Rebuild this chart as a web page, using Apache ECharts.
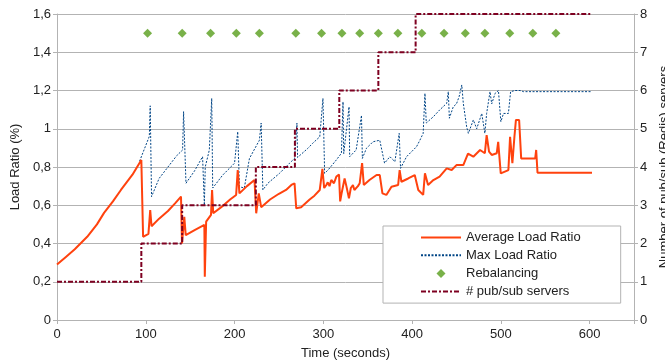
<!DOCTYPE html>
<html>
<head>
<meta charset="utf-8">
<script src="https://cdn.jsdelivr.net/npm/echarts@6/dist/echarts.min.js"></script>
<style>
  html, body { margin: 0; padding: 0; background: #fff; }
  #main { width: 665px; height: 364px; }
</style>
</head>
<body>
<div id="main"></div>
<script>
// average load ratio (time in s, ratio)
const avgTime = [0, 10, 20, 34, 45, 53, 63, 72, 85, 95, 97, 103, 105, 106.5, 115, 125, 133, 139.7, 140.8, 143.4, 145, 155, 166, 166.5, 168, 173.5, 174.7, 176, 185, 195, 201.8, 203.6, 205.5, 214, 222.5, 224.4, 227.3, 230, 240, 250, 258, 264, 267.6, 269.5, 275, 284.6, 290, 296, 299, 301, 303.4, 305, 307, 309, 312, 314.7, 317.7, 319, 320.5, 322, 324, 326, 328.9, 331, 333.4, 335, 337, 339, 341, 343.7, 345.6, 352, 360, 363.6, 366.6, 371, 376.8, 384.3, 386, 388, 395.6, 403, 407, 412.5, 414.5, 418, 424, 431, 439, 444.6, 450, 457.7, 463, 469, 476.6, 482, 484, 486.7, 489.7, 495.4, 497, 499.9, 508.5, 510.4, 513, 515.3, 517, 520.6, 522.9, 538.7, 539.8, 541.3, 602.7];
const avgValue = [0.29, 0.33, 0.37, 0.435, 0.5, 0.56, 0.62, 0.68, 0.76, 0.837, 0.435, 0.45, 0.575, 0.49, 0.53, 0.57, 0.61, 0.645, 0.4, 0.54, 0.444, 0.47, 0.497, 0.226, 0.514, 0.55, 0.68, 0.558, 0.59, 0.63, 0.654, 0.784, 0.662, 0.7, 0.732, 0.558, 0.662, 0.59, 0.63, 0.66, 0.68, 0.706, 0.715, 0.584, 0.59, 0.63, 0.65, 0.68, 0.79, 0.69, 0.706, 0.72, 0.7, 0.732, 0.715, 0.75, 0.76, 0.62, 0.66, 0.67, 0.74, 0.7, 0.636, 0.69, 0.706, 0.68, 0.67, 0.7, 0.715, 0.82, 0.706, 0.732, 0.758, 0.758, 0.662, 0.654, 0.697, 0.706, 0.784, 0.723, 0.74, 0.758, 0.68, 0.654, 0.767, 0.706, 0.732, 0.75, 0.793, 0.784, 0.81, 0.81, 0.87, 0.854, 0.889, 0.872, 0.967, 0.88, 0.863, 0.872, 0.932, 0.767, 0.784, 0.958, 0.82, 0.958, 1.046, 1.046, 0.845, 0.845, 0.889, 0.77, 0.77];

// max load ratio
const maxTime = [93, 104, 105, 106.5, 115, 125, 135, 141.5, 142.6, 145.3, 155, 164, 165.5, 166, 167, 171.6, 174.3, 175.4, 186.7, 200, 203.6, 205.5, 211, 216.8, 228, 230, 231.9, 237.5, 250.7, 262, 267.6, 270.3, 271, 282.7, 288, 296, 299.6, 301.5, 305.3, 314.7, 320.4, 322.2, 323, 329, 329.7, 337, 343, 344, 348.6, 356, 363.6, 369, 375, 380.6, 385.5, 387, 393.8, 405, 408.8, 412.5, 414.5, 416, 424, 431, 439, 440.8, 442, 446.4, 450, 453, 456, 457.7, 461.5, 463.4, 469, 472.8, 478.5, 482, 484, 487.8, 489.7, 493.5, 497.3, 500, 503, 508.5, 511, 516, 521.7, 525.5, 602.7];
const maxValue = [0.83, 0.96, 1.12, 0.645, 0.74, 0.8, 0.86, 0.889, 1.09, 0.715, 0.78, 0.854, 0.86, 0.6, 0.8, 0.889, 1.159, 0.69, 0.758, 0.82, 0.985, 0.697, 0.69, 0.845, 0.94, 1.03, 0.68, 0.715, 0.767, 0.82, 0.845, 1.03, 0.85, 0.898, 0.924, 0.958, 1.159, 0.767, 0.784, 0.837, 0.872, 1.141, 0.87, 1.115, 0.854, 0.889, 1.07, 0.845, 0.898, 0.932, 0.94, 0.82, 0.854, 0.828, 0.976, 0.793, 0.854, 0.906, 0.94, 0.976, 1.185, 1.03, 1.063, 1.098, 1.133, 1.194, 1.055, 1.115, 1.13, 1.168, 1.229, 1.133, 1.01, 0.976, 1.046, 1.0, 1.08, 0.976, 1.08, 1.194, 1.13, 1.185, 1.2, 1.037, 1.08, 1.08, 1.194, 1.2, 1.2, 1.194, 1.194];

// rebalancing events
const rebalanceTime = [102, 141, 173, 202, 228, 269, 298, 321, 341, 362, 384, 411, 436, 460, 482, 510, 536, 562];
const rebalanceLevel = 1.5;

// number of pub/sub servers (step)
const serverTime = [0, 95, 141, 224, 268, 318, 362, 404, 602];
const serverCount = [1, 2, 3, 4, 5, 6, 7, 8, 8];

const zip = (a, b) => a.map((x, i) => [x, b[i]]);
const fontFam = '"Liberation Sans", Arial, sans-serif';
const gridGray = '#b3b3b3';
const txt = '#222';
// small diamond centred in a 40x14 legend box
const diamondIcon = 'path://M0,0M40,14M20,2.5L24.5,7L20,11.5L15.5,7Z';

var chart = echarts.init(document.getElementById('main'));
var option = {
  animation: false,
  textStyle: { fontFamily: fontFam },
  grid: { left: 57, right: 31, top: 14, bottom: 44, outerBoundsMode: 'none', containLabel: false },
  legend: {
    orient: 'vertical',
    left: 383,
    top: 226,
    padding: [5, 40, 5, 37],
    itemWidth: 40,
    itemHeight: 14,
    itemGap: 4.7,
    backgroundColor: '#fff',
    borderColor: gridGray,
    borderWidth: 1,
    borderRadius: 0,
    textStyle: { fontSize: 13, color: txt, fontFamily: fontFam },
    data: [
      { name: 'Average Load Ratio', itemStyle: { opacity: 0 } },
      { name: 'Max Load Ratio', itemStyle: { opacity: 0 } },
      { name: 'Rebalancing', icon: diamondIcon },
      { name: '# pub/sub servers', itemStyle: { opacity: 0 } }
    ]
  },
  xAxis: {
    type: 'value',
    min: 0,
    max: 650,
    interval: 100,
    name: 'Time (seconds)',
    nameLocation: 'middle',
    nameGap: 27,
    nameTextStyle: { fontSize: 13, color: txt },
    axisLine: { lineStyle: { color: gridGray } },
    axisTick: { show: true, length: 4, lineStyle: { color: gridGray } },
    axisLabel: {
      fontSize: 13, color: txt, margin: 8,
      formatter: v => (v > 600 ? '' : String(v))
    },
    splitLine: { show: false }
  },
  yAxis: [
    {
      type: 'value',
      min: 0,
      max: 1.6,
      interval: 0.2,
      name: 'Load Ratio (%)',
      nameLocation: 'middle',
      nameGap: 32,
      nameRotate: 90,
      nameTextStyle: { fontSize: 13, color: txt },
      axisLine: { show: true, lineStyle: { color: gridGray } },
      axisTick: { show: true, length: 4, lineStyle: { color: gridGray } },
      axisLabel: {
        fontSize: 13, color: txt, margin: 6,
        formatter: v => String(Math.round(v * 10) / 10).replace('.', ',')
      },
      splitLine: { show: true, lineStyle: { color: gridGray, width: 1 } }
    },
    {
      type: 'value',
      min: 0,
      max: 8,
      interval: 1,
      name: 'Number of pub/sub (Redis) servers',
      nameLocation: 'middle',
      nameGap: 18,
      nameRotate: 90,
      nameTextStyle: { fontSize: 13, color: txt },
      axisLine: { show: true, lineStyle: { color: gridGray } },
      axisTick: { show: true, length: 4, lineStyle: { color: gridGray } },
      axisLabel: { fontSize: 13, color: txt, margin: 6 },
      splitLine: { show: false }
    }
  ],
  series: [
    {
      name: 'Average Load Ratio',
      type: 'line',
      data: zip(avgTime, avgValue),
      showSymbol: false,
      symbol: 'none',
      color: '#ff420e',
      lineStyle: { color: '#ff420e', width: 2 },
      z: 3
    },
    {
      name: 'Max Load Ratio',
      type: 'line',
      data: zip(maxTime, maxValue),
      showSymbol: false,
      symbol: 'none',
      color: '#004586',
      lineStyle: { color: '#004586', width: 1, type: [2, 1.5] },
      z: 2
    },
    {
      name: 'Rebalancing',
      type: 'scatter',
      data: rebalanceTime.map(t => [t, rebalanceLevel]),
      symbol: 'diamond',
      symbolSize: 9,
      color: '#579d1c',
      itemStyle: { color: '#579d1c' },
      z: 4
    },
    {
      name: '# pub/sub servers',
      type: 'line',
      yAxisIndex: 1,
      step: 'end',
      data: zip(serverTime, serverCount),
      showSymbol: false,
      symbol: 'none',
      color: '#7e0021',
      lineStyle: { color: '#7e0021', width: 2, type: [5, 2, 2, 2] },
      z: 5
    }
  ]
};
chart.setOption(option);
</script>
</body>
</html>
